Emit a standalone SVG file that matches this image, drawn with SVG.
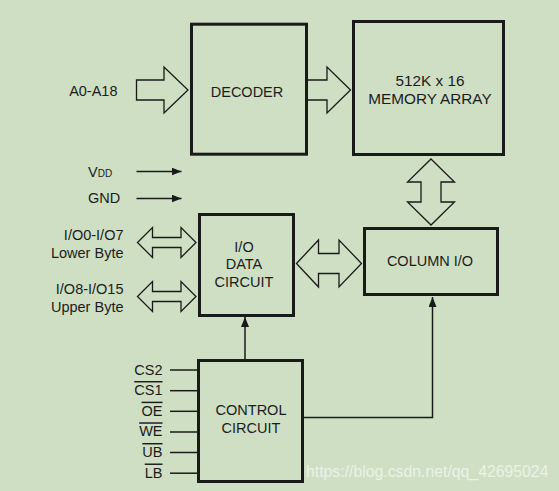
<svg xmlns="http://www.w3.org/2000/svg" width="559" height="491" viewBox="0 0 559 491">
<style>
.t{font-family:"Liberation Sans",Arial,sans-serif;font-size:14.5px;fill:#1c1c1c}
.c{text-anchor:middle}
.e{text-anchor:end}
.box{fill:none;stroke:#1a1a1a;stroke-width:3}
.fat{fill:#cedfc4;stroke:#1a1a1a;stroke-width:1.3;stroke-linejoin:miter}
.ln{fill:none;stroke:#1a1a1a;stroke-width:1.5}
.ov{text-decoration:overline}
.big{font-size:15.3px}
</style>
<defs>
<marker id="ah" viewBox="0 0 10 8" refX="10" refY="4" markerWidth="10" markerHeight="8" markerUnits="userSpaceOnUse" orient="auto">
<path d="M0,0 L10,4 L0,8 Z" fill="#1a1a1a"/>
</marker>
</defs>
<rect width="559" height="491" fill="#cedfc4"/>

<g id="connectors">
<path class="fat" d="M136.5,80 H164 V67 L188,90 L164,113 V100 H136.5 Z"/>
<path class="fat" d="M308,80 H327 V67 L350.5,90 L327,113 V100 H308"/>
<path class="fat" d="M431,159 L454.5,182 H441 V202 H454.5 L431,225 L407.5,202 H421 V182 H407.5 Z"/>
<path class="fat" d="M137.5,242.5 L152.5,227.5 V237.5 H181 V227.5 L196,242.5 L181,257.5 V247.5 H152.5 V257.5 Z"/>
<path class="fat" d="M137.5,296.5 L152.5,281.5 V291.5 H181 V281.5 L196,296.5 L181,311.5 V301.5 H152.5 V311.5 Z"/>
<path class="fat" d="M296.5,263.5 L318.5,240 V253.5 H339 V240 L361.5,263.5 L339,287 V273.5 H318.5 V287 Z"/>
<line class="ln" x1="136.5" y1="171.5" x2="181.5" y2="171.5" marker-end="url(#ah)"/>
<line class="ln" x1="136.5" y1="198.5" x2="181.5" y2="198.5" marker-end="url(#ah)"/>
<line class="ln" x1="245" y1="359" x2="245" y2="317" marker-end="url(#ah)"/>
<polyline class="ln" points="304,417.5 432.5,417.5 432.5,297" marker-end="url(#ah)"/>
<line class="ln" x1="170" y1="370" x2="197" y2="370"/>
<line class="ln" x1="170" y1="390.7" x2="197" y2="390.7"/>
<line class="ln" x1="170" y1="411.3" x2="197" y2="411.3"/>
<line class="ln" x1="170" y1="432" x2="197" y2="432"/>
<line class="ln" x1="170" y1="452.5" x2="197" y2="452.5"/>
<line class="ln" x1="170" y1="473.2" x2="197" y2="473.2"/>
</g>

<g id="labels">
<text class="t e" x="117.5" y="96">A0-A18</text>
<text class="t" x="88" y="176.5">V<tspan style="font-size:10px">DD</tspan></text>
<text class="t" x="88" y="202.5">GND</text>
<text class="t e" x="123.5" y="240">I/O0-I/O7</text>
<text class="t e" x="123.5" y="257.5">Lower Byte</text>
<text class="t e" x="123.5" y="294">I/O8-I/O15</text>
<text class="t e" x="123.5" y="311.5">Upper Byte</text>
<text class="t e" x="162.5" y="374.5">CS2</text>
<text class="t e ov" x="162.5" y="395">CS1</text>
<text class="t e ov" x="162.5" y="415.7">OE</text>
<text class="t e ov" x="162.5" y="436.3">WE</text>
<text class="t e ov" x="162.5" y="457">UB</text>
<text class="t e ov" x="162.5" y="477.5">LB</text>
</g>

<g id="decoder">
<rect class="box" x="191.5" y="24.2" width="115" height="130"/>
<text class="t c" x="247" y="97">DECODER</text>
</g>

<g id="memory-array">
<rect class="box" x="353.5" y="21.5" width="150" height="133"/>
<text class="t c big" x="430" y="86">512K x 16</text>
<text class="t c big" x="430" y="104">MEMORY ARRAY</text>
</g>

<g id="column-io">
<rect class="box" x="364.5" y="228.5" width="133" height="66"/>
<text class="t c" x="430" y="266">COLUMN I/O</text>
</g>

<g id="io-data-circuit">
<rect class="box" x="199.5" y="214.5" width="94" height="101"/>
<text class="t c" x="244" y="251.7">I/O</text>
<text class="t c" x="244" y="269.3">DATA</text>
<text class="t c" x="244" y="287.3">CIRCUIT</text>
</g>

<g id="control-circuit">
<rect class="box" x="198.5" y="360.5" width="104" height="121"/>
<text class="t c" x="251" y="415">CONTROL</text>
<text class="t c" x="251" y="432.5">CIRCUIT</text>
</g>

<text x="306" y="477" font-family="'Liberation Sans',Arial,sans-serif" font-size="15.8" fill="#ffffff" fill-opacity="0.6">https://blog.csdn.net/qq_42695024</text>
</svg>
